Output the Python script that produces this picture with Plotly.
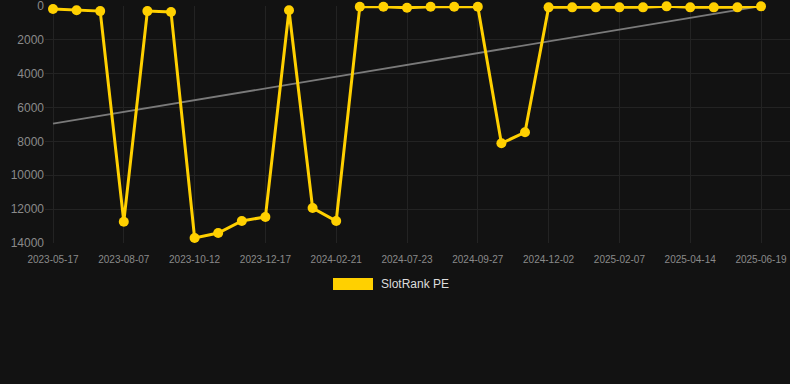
import numpy as np
import plotly.graph_objects as go

dates = [
    "2023-05-17", "2023-06-13", "2023-07-10", "2023-08-07", "2023-08-29", "2023-09-20",
    "2023-10-12", "2023-11-03", "2023-11-25", "2023-12-17", "2024-01-08", "2024-01-30",
    "2024-02-21", "2024-04-10", "2024-06-01", "2024-07-23", "2024-08-14", "2024-09-05",
    "2024-09-27", "2024-10-19", "2024-11-10", "2024-12-02", "2024-12-24", "2025-01-16",
    "2025-02-07", "2025-03-01", "2025-03-23", "2025-04-14", "2025-05-06", "2025-05-28",
    "2025-06-19",
]
ranks = [
    180, 250, 300, 12740, 300, 350,
    13700, 13410, 12700, 12460, 250, 11930,
    12700, 40, 40, 100, 40, 40,
    40, 8110, 7460, 80, 80, 80,
    80, 80, 20, 80, 80, 80,
    20,
]
y_ticks = [0, 2000, 4000, 6000, 8000, 10000, 12000, 14000]
series_name = "SlotRank PE"

x = list(range(len(dates)))
slope, intercept = np.polyfit(x, ranks, 1)
trend = [slope * i + intercept for i in x]

W, H = 790, 384
L, R, T, B = 45, 0, 6, 141
pw, ph = W - L - R, H - T - B

def px_x(p):
    return (p - L) / pw

def px_y(p):
    return (H - B - p) / ph

gold = "#ffd000"
bg = "#121212"
font = "Arial, 'Liberation Sans', sans-serif"

fig = go.Figure()
fig.add_trace(go.Scatter(
    x=x, y=trend, mode="lines",
    line=dict(color="#7a7a7a", width=1.8),
    showlegend=False, hoverinfo="skip",
))
fig.add_trace(go.Scatter(
    x=x, y=ranks, mode="lines+markers", name=series_name,
    line=dict(color=gold, width=3),
    marker=dict(color=gold, size=10),
    cliponaxis=False, showlegend=False,
    text=dates, hovertemplate="%{text}: %{y}<extra></extra>",
))

k = (761 - 53) / 30
r0 = -(53 - L) / k
r1 = 30 + (L + pw - 761) / k

fig.update_layout(
    width=W, height=H,
    margin=dict(l=L, r=R, t=T, b=B, pad=0),
    paper_bgcolor=bg, plot_bgcolor=bg,
    font=dict(family=font, color="#8a8a8a"),
    xaxis=dict(
        range=[r0, r1],
        tickmode="array",
        tickvals=x[::3],
        ticktext=dates[::3],
        tickfont=dict(size=10, color="#8a8a8a"),
        ticklabelstandoff=9,
        showgrid=True, gridcolor="#232323", gridwidth=1,
        zeroline=False, showline=False, ticks="",
    ),
    yaxis=dict(
        range=[14000, -1],
        tickmode="array",
        tickvals=y_ticks,
        ticktext=[str(v) for v in y_ticks],
        tickfont=dict(size=12, color="#8a8a8a"),
        ticklabeloverflow="allow",
        showgrid=True, gridcolor="#232323", gridwidth=1,
        zeroline=False, showline=False, ticks="",
    ),
    shapes=[dict(
        type="rect", xref="paper", yref="paper",
        x0=px_x(333), x1=px_x(373), y0=px_y(290), y1=px_y(278),
        fillcolor=gold, line=dict(width=0),
    )],
    annotations=[dict(
        xref="paper", yref="paper", x=px_x(379), y=px_y(284),
        xanchor="left", yanchor="middle", showarrow=False,
        text=series_name, font=dict(size=12, color="#dddddd", family=font),
    )],
)

fig.write_html(
    "out.html",
    config={"displayModeBar": False},
    post_script="document.body.style.margin='0';document.body.style.background='%s';" % bg,
)
